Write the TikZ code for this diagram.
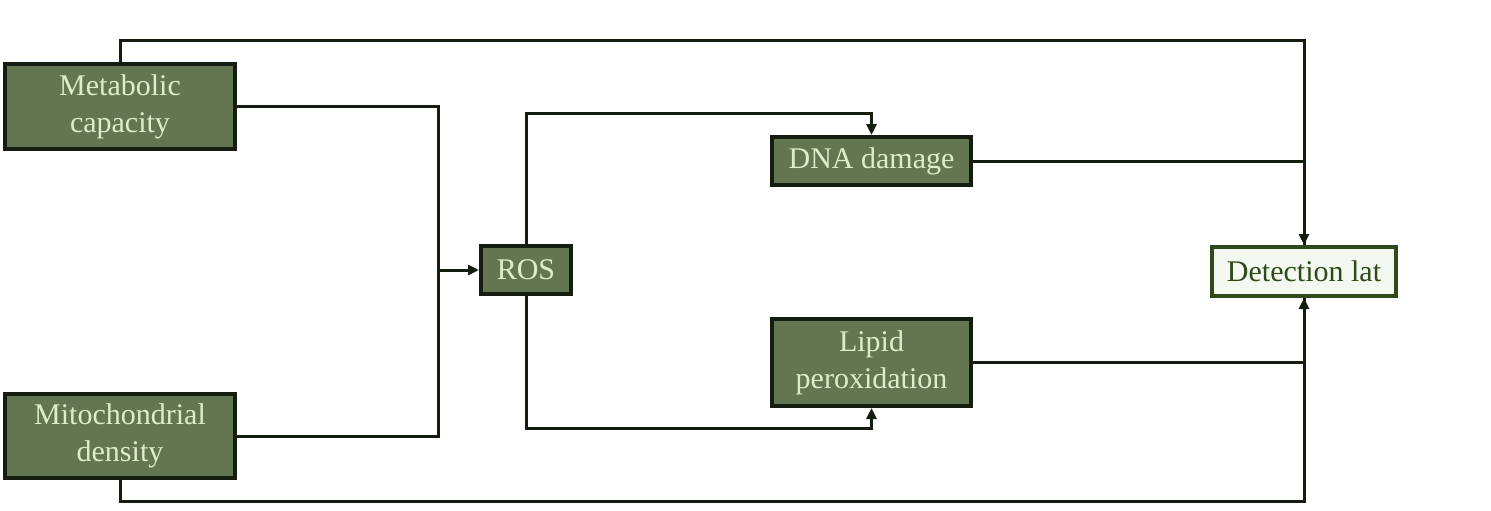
\documentclass[tikz,border=0pt]{standalone}
\usepackage{fontspec}
\setmainfont{Liberation Serif}
\usetikzlibrary{arrows.meta}
\definecolor{boxfill}{HTML}{647552}
\definecolor{boxline}{HTML}{151C10}
\definecolor{boxtext}{HTML}{DCEDC8}
\definecolor{outfill}{HTML}{F3F8F0}
\definecolor{outline}{HTML}{2E4A1A}
\definecolor{wire}{HTML}{151C10}
\begin{document}
\begin{tikzpicture}[x=1pt,y=-1pt,
  factor/.style={draw=boxline, fill=boxfill, line width=4pt, text=boxtext,
    align=center, inner sep=0pt, font=\fontsize{30}{37}\selectfont},
  outcome/.style={draw=outline, fill=outfill, line width=4pt, text=outline,
    align=center, inner sep=0pt, font=\fontsize{30}{37}\selectfont},
  link/.style={draw=wire, line width=3pt},
  flow/.style={link, -{Triangle[length=11pt,width=10pt]}}]
\useasboundingbox (0,0) rectangle (1491,511);

\node[factor, minimum width=230pt, minimum height=85pt] (met) at (120,106.5) {Metabolic\\capacity};
\node[factor, minimum width=230pt, minimum height=84pt] (mito) at (120,436) {Mitochondrial\\density};
\node[factor, minimum width=90pt, minimum height=48pt] (ros) at (526,270) {ROS};
\node[factor, minimum width=199pt, minimum height=48pt] (dna) at (871.5,161) {DNA damage};
\node[factor, minimum width=199pt, minimum height=87pt] (lip) at (871.5,362.5) {Lipid\\peroxidation};
\node[outcome, minimum width=184pt, minimum height=49pt] (det) at (1304,271.5) {Detection lat};

% bends of the routed connectors
\coordinate (join) at (438,270);
\coordinate (rosup) at (526,113);
\coordinate (rosdn) at (526,428);
\coordinate (topright) at (1304,41);
\coordinate (botright) at (1304,501);

% inputs to ROS
\draw[link] (met.east |- 0,106) -| (join);
\draw[link] (mito.east) -| (join);
\draw[flow] (join) -- (ros.west);

% ROS to its two effects
\draw[flow] (ros.north) -- (rosup) -| (dna.north);
\draw[flow] (ros.south) -- (rosdn) -| (lip.south);

% effects to detection
\draw[link] (dna.east) -| (det.north);
\draw[link] (lip.east) -| (det.south);

% direct routes to detection
\draw[flow] (met.north) |- (topright) -- (det.north);
\draw[flow] (mito.south) |- (botright) -- (det.south);
\end{tikzpicture}
\end{document}
